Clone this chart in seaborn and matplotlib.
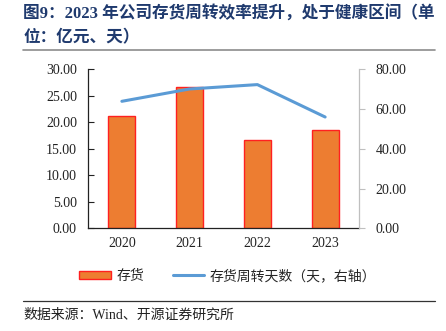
import matplotlib
matplotlib.use("Agg")
import matplotlib.pyplot as plt
import seaborn as sns
import pandas as pd
from matplotlib.lines import Line2D
from matplotlib.patches import Patch

years = ["2020", "2021", "2022", "2023"]
inventory = [21.2, 26.6, 16.7, 18.6]
turnover_days = [63.9, 70.1, 72.3, 56.0]
left_ticks = [0, 5, 10, 15, 20, 25, 30]
right_ticks = [0, 20, 40, 60, 80]

title_line1 = "图9：2023 年公司存货周转效率提升，处于健康区间（单"
title_line2 = "位：亿元、天）"
legend_bar = "存货"
legend_line = "存货周转天数（天，右轴）"
source = "数据来源：Wind、开源证券研究所"

sns.set_theme(style="white")
plt.rcParams['font.family'] = ['Liberation Serif', 'Noto Sans CJK SC', 'DejaVu Sans']

df = pd.DataFrame({"year": years, "inv": inventory, "days": turnover_days})

fig = plt.figure(figsize=(4.46, 3.31), dpi=100)
ax = fig.add_axes([88/446, 1-228.3/331, (359-88)/446, (228.3-69.3)/331])

sns.barplot(data=df, x="year", y="inv", ax=ax, color="#ED7D31", width=0.4,
            edgecolor="#FF2020", linewidth=1.0, saturation=1)
ax.set_ylim(0, 30)
ax.set_xlim(-0.5, 3.5)
ax.set_yticks(left_ticks)
ax.set_yticklabels([f"{v:.2f}" for v in left_ticks], fontsize=10, color="#222222")
ax.set_xlabel("")
ax.set_ylabel("")
ax.set_xticks([-0.5, 0.5, 1.5, 2.5, 3.5], minor=False)
ax.set_xticklabels([])
ax.set_xticks([0, 1, 2, 3], minor=True)
ax.set_xticklabels(years, minor=True, fontsize=10, color="#222222")
ax.tick_params(axis="x", which="major", direction="in", length=4, width=0.8, color="#555555")
ax.tick_params(axis="x", which="minor", length=0, pad=6)
ax.tick_params(axis="y", direction="in", length=4, width=0.8, color="#222222", pad=8)
for s in ["top", "right"]:
    ax.spines[s].set_visible(False)
ax.spines["left"].set_color("#222222")
ax.spines["bottom"].set_color("#222222")
ax.spines["left"].set_linewidth(0.9)
ax.spines["bottom"].set_linewidth(0.9)

ax2 = ax.twinx()
sns.lineplot(x=[0, 1, 2, 3], y=turnover_days, ax=ax2, color="#5B9BD5", linewidth=2.2)
ax2.set_ylim(0, 80)
ax2.set_xlim(-0.5, 3.5)
ax2.set_yticks(right_ticks)
ax2.set_yticklabels([f"{v:.2f}" for v in right_ticks], fontsize=10, color="#222222")
ax2.tick_params(axis="y", direction="out", length=4, width=0.8, color="#BFBFBF", pad=8)
for s in ["top", "left", "bottom"]:
    ax2.spines[s].set_visible(False)
ax2.spines["right"].set_color("#BFBFBF")
ax2.spines["right"].set_linewidth(0.9)
ax2.set_ylabel("")

title_color = "#1F3A6E"
fig.text(23/446, 1-14/331, title_line1, fontsize=12, fontweight="bold", color=title_color,
         va="center", ha="left")
fig.text(23/446, 1-38/331, title_line2, fontsize=12, fontweight="bold", color=title_color,
         va="center", ha="left")
fig.add_artist(Line2D([23/446, 435/446], [1-49.5/331, 1-49.5/331], color="#8C8C8C", linewidth=1.2))

handles = [Patch(facecolor="#ED7D31", edgecolor="#FF2020", linewidth=1.0),
           Line2D([0], [0], color="#5B9BD5", linewidth=2.2)]
fig.legend(handles, [legend_bar, legend_line], loc="center", bbox_to_anchor=(228/446, 1-276/331),
           ncol=2, frameon=False, fontsize=10, handlelength=2.3, handleheight=0.6,
           columnspacing=2.0, handletextpad=0.4)

fig.add_artist(Line2D([23/446, 435/446], [1-301/331, 1-301/331], color="#333333", linewidth=0.9))
fig.text(23/446, 1-315/331, source, fontsize=10, color="#222222", va="center", ha="left")

fig.savefig("out.png", dpi=100)
